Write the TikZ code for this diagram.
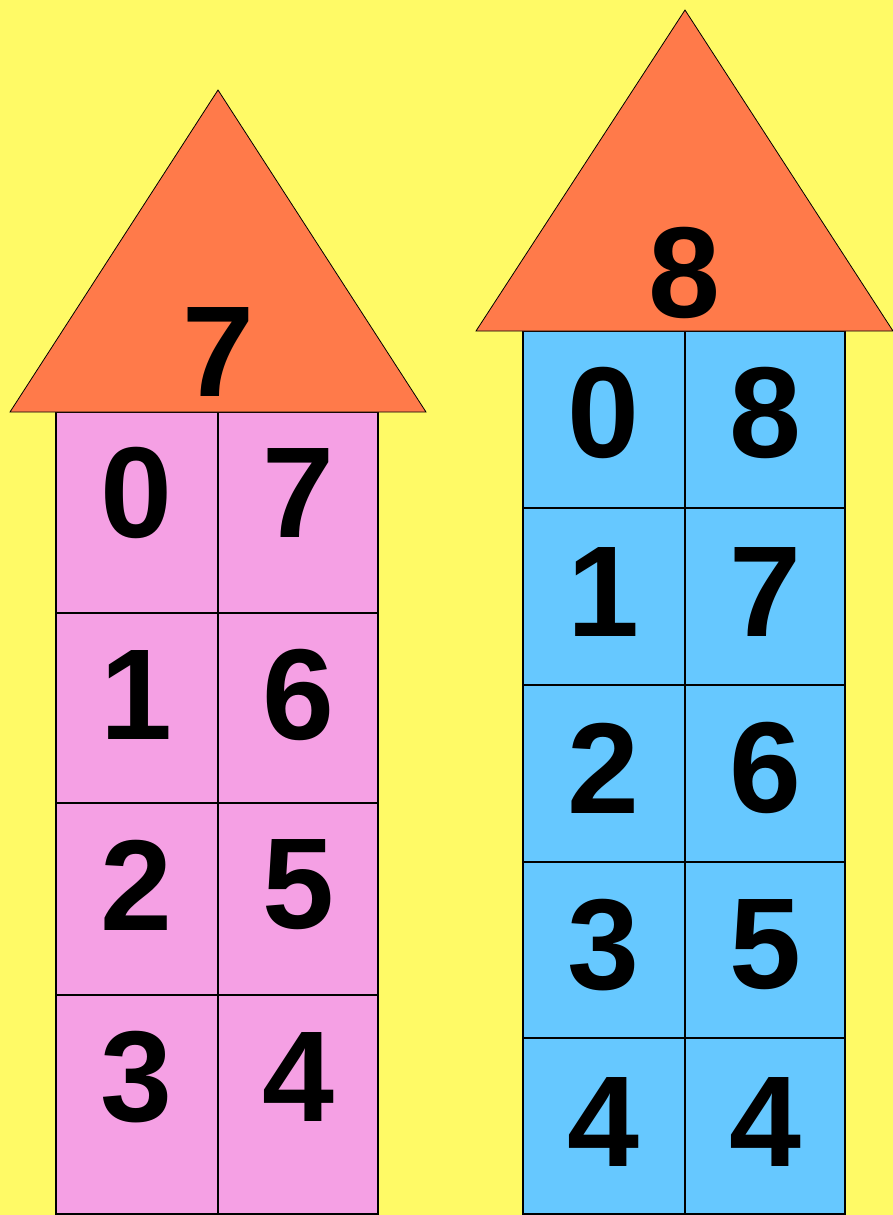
\documentclass[tikz,border=0pt]{standalone}
\usepackage{fontspec}
\setmainfont{Liberation Sans}
\usepackage{tikz}
\usetikzlibrary{positioning}

\definecolor{sunny}{RGB}{255,250,102}
\definecolor{roofred}{RGB}{255,122,74}
\definecolor{pinkwall}{RGB}{245,160,228}
\definecolor{bluewall}{RGB}{102,200,255}

\begin{document}
\begin{tikzpicture}[
  x=0.75pt, y=-0.75pt,
  digit/.style={font=\fontsize{97}{97}\selectfont\bfseries, inner sep=0pt},
  roof/.style={draw=black, line width=0.6pt, fill=roofred},
  wall/.style={draw=black, line width=0.9pt},
  grid/.style={draw=black, line width=0.8pt}
]

\fill[sunny] (0,0) rectangle (893,1215);
\useasboundingbox (0,0) rectangle (893,1215);

% house of seven
\draw[wall, fill=pinkwall] (56,412) rectangle (378,1214);
\draw[grid] (218,412) -- (218,1214);
\draw[grid] (56,613) -- (378,613);
\draw[grid] (56,803) -- (378,803);
\draw[grid] (56,995) -- (378,995);
\draw[roof] (10,412) -- (218,90) -- (426,412) -- cycle;

\node[digit] (roof7) at (218,352) {7};
\node[digit] (s0) at (136,493) {0};
\node[digit] (s7) at (298,493) {7};
\node[digit] (s1) at (136,695) {1};
\node[digit] (s6) at (298,695) {6};
\node[digit] (s2) at (136,885) {2};
\node[digit] (s5) at (298,885) {5};
\node[digit] (s3) at (136,1077) {3};
\node[digit] (s4) at (298,1077) {4};

% house of eight
\draw[wall, fill=bluewall] (523,331) rectangle (845,1214);
\draw[grid] (685,331) -- (685,1214);
\draw[grid] (523,508) -- (845,508);
\draw[grid] (523,685) -- (845,685);
\draw[grid] (523,862) -- (845,862);
\draw[grid] (523,1038) -- (845,1038);
\draw[roof] (476,331) -- (685,10) -- (893,331) -- cycle;

\node[digit] (roof8) at (684,273) {8};
\node[digit] (e0) at (603,413) {0};
\node[digit] (e8) at (765,413) {8};
\node[digit] (e1) at (603,592) {1};
\node[digit] (e7) at (765,592) {7};
\node[digit] (e2) at (603,768) {2};
\node[digit] (e6) at (765,768) {6};
\node[digit] (e3) at (603,945) {3};
\node[digit] (e5) at (765,945) {5};
\node[digit] (e4a) at (603,1122) {4};
\node[digit] (e4b) at (765,1122) {4};

\end{tikzpicture}
\end{document}
